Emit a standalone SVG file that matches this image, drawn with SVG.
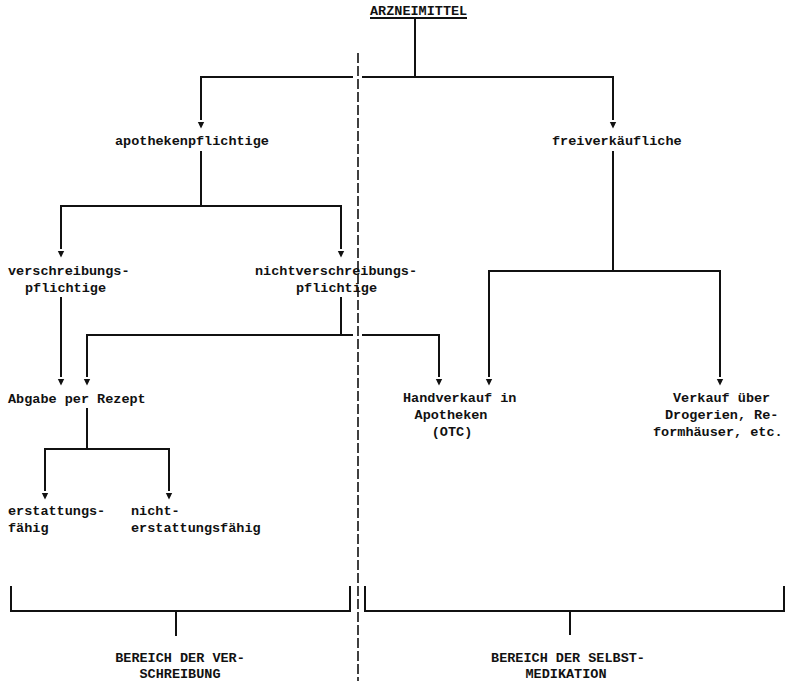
<svg xmlns="http://www.w3.org/2000/svg" width="790" height="681" viewBox="0 0 790 681">
  <style>
    text { font-family: "Liberation Mono", "DejaVu Sans Mono", monospace; font-size: 13.5px; font-weight: bold; fill: #111; }
    .mid { text-anchor: middle; }
    .ln { stroke: #111; stroke-width: 2; fill: none; }
    .arr { stroke: #111; stroke-width: 2; fill: none; marker-end: url(#tri); }
    .div { stroke: #111; stroke-width: 1.6; stroke-dasharray: 10 3; fill: none; }
  </style>
  <defs>
    <marker id="tri" markerUnits="userSpaceOnUse" markerWidth="10" markerHeight="10" refX="0" refY="0" viewBox="-1 -4 10 8" orient="auto">
      <path d="M2,-3.2 L8.5,0 L2,3.2 z" fill="#111"/>
    </marker>
  </defs>

  <rect width="790" height="681" fill="#fff"/>

  <!-- dividing line between the two areas -->
  <line class="div" x1="358" y1="53" x2="358" y2="681"/>

  <g id="n-arzneimittel">
    <text x="370" y="15">ARZNEIMITTEL</text>
    <line class="ln" x1="370" y1="18" x2="467" y2="18"/>
  </g>
  <g id="n-apotheken">
    <text x="115" y="145">apothekenpflichtige</text>
  </g>
  <g id="n-frei">
    <text x="552" y="145">freiverkäufliche</text>
  </g>
  <g id="n-verschreib">
    <text x="8" y="275">verschreibungs-</text>
    <text x="25" y="292">pflichtige</text>
  </g>
  <g id="n-nichtverschreib">
    <text x="255" y="275">nichtverschreibungs-</text>
    <text x="296" y="292">pflichtige</text>
  </g>
  <g id="n-rezept">
    <text x="8" y="403">Abgabe per Rezept</text>
  </g>
  <g id="n-handverkauf">
    <text x="403" y="402">Handverkauf in</text>
    <text class="mid" x="451" y="419">Apotheken</text>
    <text class="mid" x="452" y="436">(OTC)</text>
  </g>
  <g id="n-drogerien">
    <text x="673" y="402">Verkauf über</text>
    <text x="665" y="419">Drogerien, Re-</text>
    <text x="653" y="436">formhäuser, etc.</text>
  </g>
  <g id="n-erstattung">
    <text x="8" y="515">erstattungs-</text>
    <text x="8" y="532">fähig</text>
  </g>
  <g id="n-nichterstattung">
    <text x="131" y="515">nicht-</text>
    <text x="131" y="532">erstattungsfähig</text>
  </g>
  <g id="n-bereich-verschreibung">
    <path class="ln" d="M11,586 V611 H350 V586 M176,611 V636"/>
    <text class="mid" x="180" y="662">BEREICH DER VER-</text>
    <text class="mid" x="180" y="678">SCHREIBUNG</text>
  </g>
  <g id="n-bereich-selbstmedikation">
    <path class="ln" d="M365,586 V611 H784 V586 M570,611 V635"/>
    <text class="mid" x="568" y="662">BEREICH DER SELBST-</text>
    <text class="mid" x="566" y="678">MEDIKATION</text>
  </g>

  <g id="connectors">
    <!-- Arzneimittel split -->
    <line class="ln" x1="415" y1="19" x2="415" y2="77"/>
    <line class="ln" x1="200" y1="77" x2="353" y2="77"/>
    <line class="ln" x1="362" y1="77" x2="614" y2="77"/>
    <line class="arr" x1="201" y1="76" x2="201" y2="120"/>
    <line class="arr" x1="613" y1="76" x2="613" y2="120"/>

    <!-- apothekenpflichtige split -->
    <line class="ln" x1="201" y1="151" x2="201" y2="206"/>
    <line class="ln" x1="60" y1="206" x2="342" y2="206"/>
    <line class="arr" x1="61" y1="205" x2="61" y2="249"/>
    <line class="arr" x1="341" y1="205" x2="341" y2="249"/>

    <!-- verschreibungspflichtige to Rezept -->
    <line class="arr" x1="61" y1="297" x2="61" y2="377"/>

    <!-- nichtverschreibungspflichtige split -->
    <line class="ln" x1="341" y1="297" x2="341" y2="335"/>
    <line class="ln" x1="86" y1="335" x2="353" y2="335"/>
    <line class="ln" x1="362" y1="335" x2="440" y2="335"/>
    <line class="arr" x1="87" y1="334" x2="87" y2="377"/>
    <line class="arr" x1="439" y1="334" x2="439" y2="377"/>

    <!-- freiverkäufliche split -->
    <line class="ln" x1="613" y1="151" x2="613" y2="271"/>
    <line class="ln" x1="488" y1="271" x2="721" y2="271"/>
    <line class="arr" x1="489" y1="270" x2="489" y2="377"/>
    <line class="arr" x1="720" y1="270" x2="720" y2="377"/>

    <!-- Rezept split -->
    <line class="ln" x1="87" y1="408" x2="87" y2="449"/>
    <line class="ln" x1="44" y1="449" x2="170" y2="449"/>
    <line class="arr" x1="45" y1="448" x2="45" y2="491"/>
    <line class="arr" x1="169" y1="448" x2="169" y2="491"/>
  </g>
</svg>
